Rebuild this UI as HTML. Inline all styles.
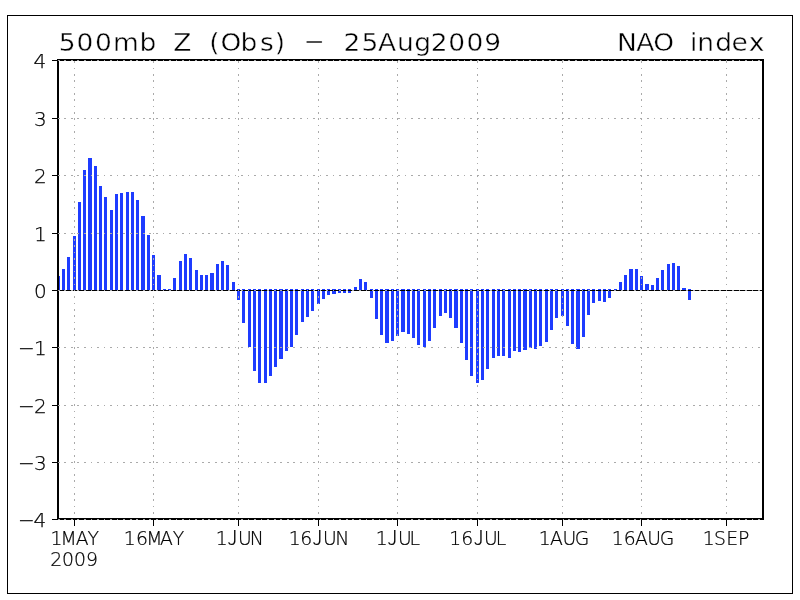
<!DOCTYPE html>
<html lang="en">
<head>
<meta charset="utf-8">
<title>500mb Z (Obs) - 25Aug2009 NAO index</title>
<style>
html,body{margin:0;padding:0;background:#fff;}
body{width:800px;height:600px;overflow:hidden;}
svg{display:block;}
.lab{font-family:"DejaVu Sans Light","DejaVu Sans","Liberation Sans",sans-serif;font-weight:200;font-size:20px;fill:#000;stroke:#000;stroke-width:0.25px;}
.j{font-family:"Noto Sans CJK JP","Liberation Sans",sans-serif;font-weight:300;}
.ttl{font-family:"DejaVu Sans","Liberation Sans",sans-serif;font-weight:400;font-size:25px;fill:#000;stroke:#fff;stroke-width:0.4px;}
</style>
</head>
<body>
<svg width="800" height="600" viewBox="0 0 800 600">
<rect x="0" y="0" width="800" height="600" fill="#fff"/>
<g shape-rendering="crispEdges">
<rect x="7.5" y="15.5" width="785" height="578" fill="none" stroke="#000" stroke-width="1"/>
<g fill="#1e3cff">
<rect x="57" y="276" width="3" height="14"/>
<rect x="62" y="269" width="3" height="21"/>
<rect x="67" y="257" width="3" height="33"/>
<rect x="73" y="236" width="3" height="54"/>
<rect x="78" y="202" width="3" height="88"/>
<rect x="83" y="170" width="3" height="120"/>
<rect x="88" y="158" width="4" height="132"/>
<rect x="94" y="166" width="3" height="124"/>
<rect x="99" y="186" width="3" height="104"/>
<rect x="104" y="197" width="3" height="93"/>
<rect x="110" y="210" width="3" height="80"/>
<rect x="115" y="194" width="3" height="96"/>
<rect x="120" y="193" width="3" height="97"/>
<rect x="126" y="192" width="3" height="98"/>
<rect x="131" y="192" width="3" height="98"/>
<rect x="136" y="200" width="3" height="90"/>
<rect x="141" y="216" width="4" height="74"/>
<rect x="147" y="235" width="3" height="55"/>
<rect x="152" y="255" width="3" height="35"/>
<rect x="157" y="275" width="4" height="15"/>
<rect x="163" y="289" width="3" height="1"/>
<rect x="168" y="289" width="3" height="1"/>
<rect x="173" y="278" width="3" height="12"/>
<rect x="179" y="261" width="3" height="29"/>
<rect x="184" y="254" width="3" height="36"/>
<rect x="189" y="258" width="3" height="32"/>
<rect x="195" y="270" width="3" height="20"/>
<rect x="200" y="275" width="3" height="15"/>
<rect x="205" y="275" width="3" height="15"/>
<rect x="210" y="273" width="4" height="17"/>
<rect x="216" y="264" width="3" height="26"/>
<rect x="221" y="261" width="3" height="29"/>
<rect x="226" y="265" width="3" height="25"/>
<rect x="232" y="282" width="3" height="8"/>
<rect x="237" y="289" width="3" height="11"/>
<rect x="242" y="289" width="3" height="34"/>
<rect x="248" y="289" width="3" height="58"/>
<rect x="253" y="289" width="3" height="82"/>
<rect x="258" y="289" width="3" height="94"/>
<rect x="264" y="289" width="3" height="94"/>
<rect x="269" y="289" width="3" height="87"/>
<rect x="274" y="289" width="3" height="78"/>
<rect x="279" y="289" width="4" height="70"/>
<rect x="285" y="289" width="3" height="62"/>
<rect x="290" y="289" width="3" height="58"/>
<rect x="295" y="289" width="3" height="46"/>
<rect x="301" y="289" width="3" height="33"/>
<rect x="306" y="289" width="3" height="28"/>
<rect x="311" y="289" width="3" height="22"/>
<rect x="317" y="289" width="3" height="15"/>
<rect x="322" y="289" width="3" height="10"/>
<rect x="327" y="289" width="3" height="6"/>
<rect x="332" y="289" width="4" height="5"/>
<rect x="338" y="289" width="3" height="4"/>
<rect x="343" y="289" width="3" height="4"/>
<rect x="348" y="289" width="3" height="4"/>
<rect x="354" y="287" width="3" height="3"/>
<rect x="359" y="279" width="3" height="11"/>
<rect x="364" y="282" width="3" height="8"/>
<rect x="370" y="289" width="3" height="9"/>
<rect x="375" y="289" width="3" height="30"/>
<rect x="380" y="289" width="3" height="46"/>
<rect x="385" y="289" width="4" height="54"/>
<rect x="391" y="289" width="3" height="52"/>
<rect x="396" y="289" width="3" height="47"/>
<rect x="401" y="289" width="4" height="43"/>
<rect x="407" y="289" width="3" height="45"/>
<rect x="412" y="289" width="3" height="49"/>
<rect x="417" y="289" width="3" height="56"/>
<rect x="423" y="289" width="3" height="58"/>
<rect x="428" y="289" width="3" height="52"/>
<rect x="433" y="289" width="3" height="39"/>
<rect x="439" y="289" width="3" height="27"/>
<rect x="444" y="289" width="3" height="24"/>
<rect x="449" y="289" width="3" height="29"/>
<rect x="454" y="289" width="4" height="39"/>
<rect x="460" y="289" width="3" height="54"/>
<rect x="465" y="289" width="3" height="71"/>
<rect x="470" y="289" width="3" height="87"/>
<rect x="476" y="289" width="3" height="94"/>
<rect x="481" y="289" width="3" height="91"/>
<rect x="486" y="289" width="3" height="80"/>
<rect x="492" y="289" width="3" height="69"/>
<rect x="497" y="289" width="3" height="67"/>
<rect x="502" y="289" width="3" height="67"/>
<rect x="508" y="289" width="3" height="69"/>
<rect x="513" y="289" width="3" height="62"/>
<rect x="518" y="289" width="3" height="63"/>
<rect x="523" y="289" width="4" height="61"/>
<rect x="529" y="289" width="3" height="59"/>
<rect x="534" y="289" width="3" height="60"/>
<rect x="539" y="289" width="3" height="57"/>
<rect x="545" y="289" width="3" height="53"/>
<rect x="550" y="289" width="3" height="41"/>
<rect x="555" y="289" width="3" height="29"/>
<rect x="561" y="289" width="3" height="27"/>
<rect x="566" y="289" width="3" height="37"/>
<rect x="571" y="289" width="3" height="55"/>
<rect x="576" y="289" width="4" height="60"/>
<rect x="582" y="289" width="3" height="48"/>
<rect x="587" y="289" width="3" height="26"/>
<rect x="592" y="289" width="3" height="14"/>
<rect x="598" y="289" width="3" height="12"/>
<rect x="603" y="289" width="3" height="13"/>
<rect x="608" y="289" width="3" height="9"/>
<rect x="614" y="289" width="3" height="1"/>
<rect x="619" y="282" width="3" height="8"/>
<rect x="624" y="275" width="3" height="15"/>
<rect x="629" y="269" width="4" height="21"/>
<rect x="635" y="269" width="3" height="21"/>
<rect x="640" y="276" width="3" height="14"/>
<rect x="645" y="284" width="4" height="6"/>
<rect x="651" y="285" width="3" height="5"/>
<rect x="656" y="278" width="3" height="12"/>
<rect x="661" y="270" width="3" height="20"/>
<rect x="667" y="264" width="3" height="26"/>
<rect x="672" y="263" width="3" height="27"/>
<rect x="677" y="266" width="3" height="24"/>
<rect x="682" y="288" width="4" height="2"/>
<rect x="688" y="289" width="3" height="11"/>
</g>
<line x1="59" y1="290.5" x2="762" y2="290.5" stroke="#000" stroke-width="1"/>
<rect x="58" y="60" width="705" height="459" fill="none" stroke="#000" stroke-width="2"/>
<g stroke="#aaaaaa" stroke-width="1" fill="none">
<g stroke-dasharray="1.7 4.847">
<line x1="57.8" y1="60.5" x2="763" y2="60.5"/>
<line x1="57.8" y1="118.5" x2="763" y2="118.5"/>
<line x1="57.8" y1="175.5" x2="763" y2="175.5"/>
<line x1="57.8" y1="233.5" x2="763" y2="233.5"/>
<line x1="57.8" y1="290.5" x2="763" y2="290.5"/>
<line x1="57.8" y1="347.5" x2="763" y2="347.5"/>
<line x1="57.8" y1="405.5" x2="763" y2="405.5"/>
<line x1="57.8" y1="462.5" x2="763" y2="462.5"/>
<line x1="57.8" y1="519.5" x2="763" y2="519.5"/>
</g>
<g stroke-dasharray="1.55 4.800">
<line x1="74.5" y1="61.3" x2="74.5" y2="519"/>
<line x1="153.5" y1="61.3" x2="153.5" y2="519"/>
<line x1="238.5" y1="61.3" x2="238.5" y2="519"/>
<line x1="318.5" y1="61.3" x2="318.5" y2="519"/>
<line x1="397.5" y1="61.3" x2="397.5" y2="519"/>
<line x1="477.5" y1="61.3" x2="477.5" y2="519"/>
<line x1="562.5" y1="61.3" x2="562.5" y2="519"/>
<line x1="641.5" y1="61.3" x2="641.5" y2="519"/>
<line x1="726.5" y1="61.3" x2="726.5" y2="519"/>
</g></g>
<g stroke="#000" stroke-width="1">
<line x1="52" y1="60.5" x2="58" y2="60.5"/>
<line x1="52" y1="118.5" x2="58" y2="118.5"/>
<line x1="52" y1="175.5" x2="58" y2="175.5"/>
<line x1="52" y1="233.5" x2="58" y2="233.5"/>
<line x1="52" y1="290.5" x2="58" y2="290.5"/>
<line x1="52" y1="347.5" x2="58" y2="347.5"/>
<line x1="52" y1="405.5" x2="58" y2="405.5"/>
<line x1="52" y1="462.5" x2="58" y2="462.5"/>
<line x1="52" y1="519.5" x2="58" y2="519.5"/>
<line x1="74.5" y1="519" x2="74.5" y2="526"/>
<line x1="153.5" y1="519" x2="153.5" y2="526"/>
<line x1="238.5" y1="519" x2="238.5" y2="526"/>
<line x1="318.5" y1="519" x2="318.5" y2="526"/>
<line x1="397.5" y1="519" x2="397.5" y2="526"/>
<line x1="477.5" y1="519" x2="477.5" y2="526"/>
<line x1="562.5" y1="519" x2="562.5" y2="526"/>
<line x1="641.5" y1="519" x2="641.5" y2="526"/>
<line x1="726.5" y1="519" x2="726.5" y2="526"/>
</g>
</g>
<g class="lab">
<text x="33.5" y="68">4</text>
<text x="34.0" y="126">3</text>
<text x="34.0" y="183">2</text>
<text x="34.0" y="241">1</text>
<text x="34.0" y="298">0</text>
<text x="18.1 34.0" y="355">−1</text>
<text x="18.1 34.0" y="413">−2</text>
<text x="18.1 34.0" y="470">−3</text>
<text x="18.1 33.5" y="527">−4</text>
</g>
<g class="lab">
<text transform="translate(0,545) scale(0.94,1)" x="53.8 64.4 80.6 93.1" y="0">1MAY</text>
<text transform="translate(0,545) scale(0.94,1)" x="131.6 144.7 155.5 170.2 183.8" y="0">16MAY</text>
<text transform="translate(0,545) scale(0.94,1)" x="229.5 242.0 253.2 265.6" y="0">1<tspan class="j">J</tspan>UN</text>
<text transform="translate(0,545) scale(0.94,1)" x="307.1 319.5 332.4 343.6 356.6" y="0">16<tspan class="j">J</tspan>UN</text>
<text transform="translate(0,545) scale(0.94,1)" x="399.7 412.2 423.4 435.6" y="0">1<tspan class="j">J</tspan>UL</text>
<text transform="translate(0,545) scale(0.94,1)" x="477.8 490.6 503.9 514.9 527.3" y="0">16<tspan class="j">J</tspan>UL</text>
<text transform="translate(0,545) scale(0.94,1)" x="573.1 585.1 598.3 611.4" y="0">1AUG</text>
<text transform="translate(0,545) scale(0.94,1)" x="650.7 663.5 675.5 688.7 701.8" y="0">16AUG</text>
<text transform="translate(0,545) scale(0.94,1)" x="747.6 759.6 772.6 785.1" y="0">1SEP</text>
<text transform="translate(0,566) scale(0.94,1)" x="53.5 66.0 78.7 91.5" y="0">2009</text>
</g>
<text class="ttl" transform="translate(0,51) scale(1.06,1)" x="55.4 72.2 89.6 106.6 131.7 144.9 163.4 176.6 197.5 208.0 226.9 245.3 259.1" y="0">500mb Z (Obs)</text>
<text class="ttl" transform="translate(303.11,49) scale(2.486,1)">-</text>
<text class="ttl" transform="translate(0,51) scale(1.06,1)" x="324.1 341.0 356.5 374.5 390.8 406.4 423.0 440.1 456.8" y="0">25Aug2009</text>
<text class="ttl" transform="translate(0,51) scale(1.06,1)" x="582.0 600.2 616.2 629.4 650.9 657.7 674.7 690.1 706.4" y="0">NAO index</text>
</svg>
</body>
</html>
